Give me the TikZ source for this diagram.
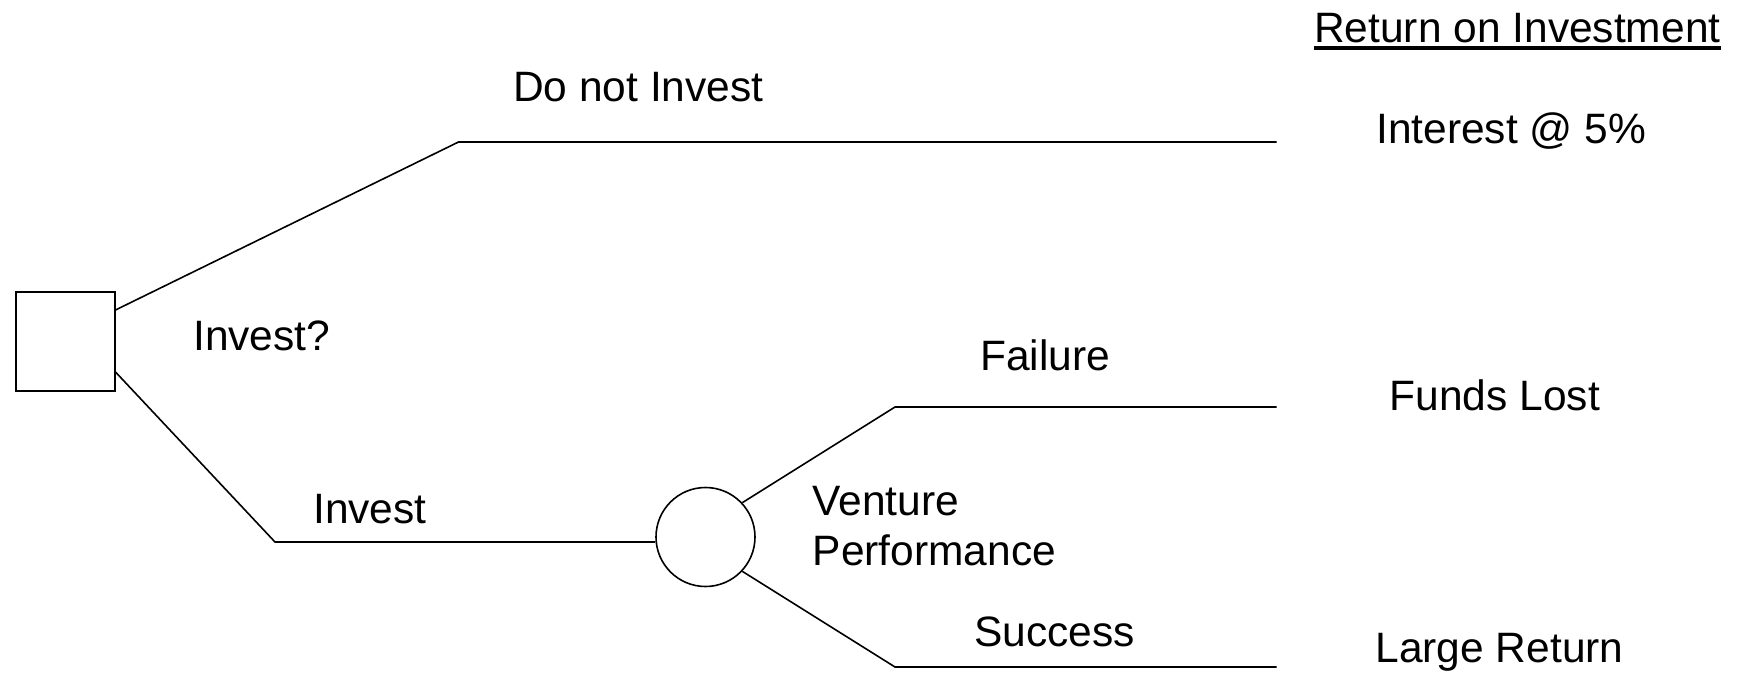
\documentclass[tikz,border=0pt]{standalone}
\usepackage{fontspec}
\setmainfont{Liberation Sans}
\usepackage{tikz}
\usetikzlibrary{positioning, calc}

\begin{document}
\begin{tikzpicture}[
    x=1pt, y=-1pt,
    every node/.style={font=\fontsize{42.5}{50}\selectfont},
    decision/.style={
        rectangle,
        draw=black,
        line width=2pt,
        minimum size=99pt,
        inner sep=0pt
    },
    chance/.style={
        circle,
        draw=black,
        line width=1.6pt,
        minimum size=99pt,
        inner sep=0pt
    },
    branch/.style={
        line width=1.6pt,
        draw=black
    },
    mylabel/.style={
        anchor=base west,
        inner sep=0pt,
        align=left
    }
]
\useasboundingbox (0,0) rectangle (1745,672);

% Nodes - decision and chance
\node[decision] (invest) at (65,341) {};
\node[chance] (venture) at (705.5,537) {};

% Coordinates - corners and ends of branches
\coordinate (nocorner) at (458.5,142);
\coordinate (noend) at (1276.5,142);
\coordinate (yescorner) at (275,542);
\coordinate (failcorner) at (895,407);
\coordinate (failend) at (1276.5,407);
\coordinate (succcorner) at (895,667);
\coordinate (succend) at (1276.5,667);

% Branches
\draw[branch] ([yshift=31pt]invest.east) -- (nocorner) -- (noend);
\draw[branch] ([yshift=-31pt]invest.east) -- (yescorner) -- ([yshift=-5pt]venture.west);
\draw[branch] (venture.43) -- (failcorner) -- (failend);
\draw[branch] (venture.-43) -- (succcorner) -- (succend);

% Labels - branches
\node[mylabel] (nolabel) at (513,101.7) {Do not Invest};
\node[mylabel] (asklabel) at (193,350) {Invest?};
\node[mylabel] (yeslabel) at (313,523.3) {Invest};
\node[mylabel] (faillabel) at (980,370.7) {Failure};
\node[mylabel] (perflabel) at (812.5,565) {Venture\\Performance};
\node[mylabel] (succlabel) at (974,646.7) {Success};

% Labels - returns
\node[mylabel] (roi) at (1314,42.7) {Return on Investment};
\draw[line width=4pt] ([yshift=-5pt]roi.base west) -- ([yshift=-5pt]roi.base east);
\node[mylabel] (interest) at (1376,143.3) {Interest @ 5\%};
\node[mylabel] (lost) at (1389.5,410.7) {Funds Lost};
\node[mylabel] (large) at (1375.3,662.7) {Large Return};

\end{tikzpicture}
\end{document}
